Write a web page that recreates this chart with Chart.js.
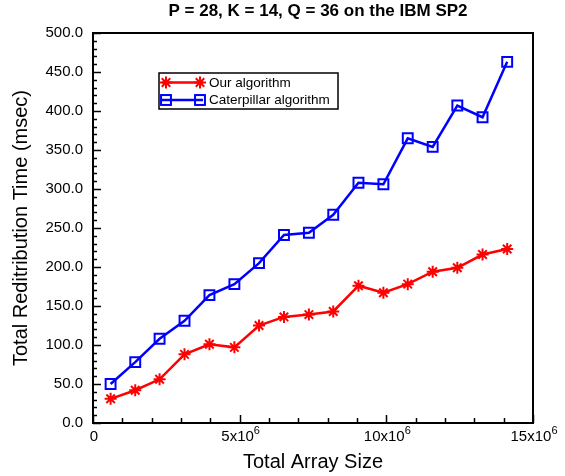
<!DOCTYPE html>
<html>
<head>
<meta charset="utf-8">
<script src="https://cdn.jsdelivr.net/npm/chart.js@4.4.0/dist/chart.umd.min.js"></script>
<style>
  html, body { margin: 0; padding: 0; background: #fff; }
  #chart { display: block; }
</style>
</head>
<body>
<canvas id="chart" width="565" height="476"></canvas>
<script>
// values
var arraySizes = [0.6e6, 1.44e6, 2.27e6, 3.12e6, 3.97e6, 4.82e6, 5.66e6, 6.51e6, 7.36e6,
                  8.19e6, 9.05e6, 9.9e6, 10.73e6, 11.58e6, 12.42e6, 13.28e6, 14.12e6];
var ourTimes = [31, 42, 56, 88, 101, 97, 125, 136, 139, 143, 176, 167, 178, 194, 199, 216, 223];
var caterpillarTimes = [50, 78, 108, 131, 164, 178, 205, 241, 244, 267, 308, 306, 365, 354, 407, 392, 463];
var seriesNames = ['Our algorithm', 'Caterpillar algorithm'];
var titleText = 'P = 28, K = 14, Q = 36 on the IBM SP2';

var yMajorTicks = [0, 50, 100, 150, 200, 250, 300, 350, 400, 450, 500];
var yMinorTicks = [10, 20, 30, 40, 60, 70, 80, 90, 110, 120, 130, 140, 160, 170, 180, 190,
                   210, 220, 230, 240, 260, 270, 280, 290, 310, 320, 330, 340, 360, 370, 380, 390,
                   410, 420, 430, 440, 460, 470, 480, 490];
var xMajorTicks = [0, 5e6, 10e6, 15e6];
var xMinorTicks = [1e6, 2e6, 3e6, 4e6, 6e6, 7e6, 8e6, 9e6, 11e6, 12e6, 13e6, 14e6];
// tick label = base text + superscript exponent
var xTickBases = ['0', '5x10', '10x10', '15x10'];
var xTickExps = ['', '6', '6', '6'];

var FONT = '"Liberation Sans", Arial, sans-serif';

function toPoints(ys) {
    return ys.map(function (v, i) { return { x: arraySizes[i], y: v }; });
}

function drawStar(ctx, x, y, r) {
    var d = r * Math.SQRT1_2;
    ctx.beginPath();
    ctx.moveTo(x - r, y); ctx.lineTo(x + r, y);
    ctx.moveTo(x, y - r); ctx.lineTo(x, y + r);
    ctx.moveTo(x - d, y - d); ctx.lineTo(x + d, y + d);
    ctx.moveTo(x - d, y + d); ctx.lineTo(x + d, y - d);
    ctx.stroke();
}

function drawSquare(ctx, x, y, r) {
    var s = r * Math.SQRT1_2;
    ctx.strokeRect(x - s, y - s, 2 * s, 2 * s);
}

// frame, inward ticks, x tick labels, title, legend box
var decorations = {
    id: 'decorations',
    afterDraw: function (chart) {
        var ctx = chart.ctx, a = chart.chartArea;
        var xs = chart.scales.x, ys = chart.scales.y;
        ctx.save();
        ctx.strokeStyle = '#000';
        ctx.lineWidth = 1.5;
        ctx.beginPath();
        yMajorTicks.forEach(function (v) {
            var py = Math.round(ys.getPixelForValue(v)) + 0.5;
            ctx.moveTo(a.left, py); ctx.lineTo(a.left + 8, py);
        });
        yMinorTicks.forEach(function (v) {
            var py = Math.round(ys.getPixelForValue(v)) + 0.5;
            ctx.moveTo(a.left, py); ctx.lineTo(a.left + 4, py);
        });
        xMajorTicks.forEach(function (v) {
            var px = Math.round(xs.getPixelForValue(v)) + 0.5;
            ctx.moveTo(px, a.bottom); ctx.lineTo(px, a.bottom - 8);
        });
        xMinorTicks.forEach(function (v) {
            var px = Math.round(xs.getPixelForValue(v)) + 0.5;
            ctx.moveTo(px, a.bottom); ctx.lineTo(px, a.bottom - 5);
        });
        ctx.stroke();

        ctx.lineWidth = 2;
        ctx.strokeRect(a.left, a.top, a.right - a.left, a.bottom - a.top);

        // x tick labels with raised exponent
        ctx.fillStyle = '#000';
        ctx.textAlign = 'left';
        ctx.textBaseline = 'alphabetic';
        xMajorTicks.forEach(function (v, i) {
            var px = xs.getPixelForValue(v);
            ctx.font = '15px ' + FONT;
            var wb = ctx.measureText(xTickBases[i]).width;
            ctx.font = '11px ' + FONT;
            var we = xTickExps[i] ? ctx.measureText(xTickExps[i]).width : 0;
            var x0 = px - (wb + we) / 2 + 1;
            ctx.font = '15px ' + FONT;
            ctx.fillText(xTickBases[i], x0, a.bottom + 18);
            if (we) {
                ctx.font = '11px ' + FONT;
                ctx.fillText(xTickExps[i], x0 + wb, a.bottom + 11);
            }
        });

        // title
        ctx.font = 'bold 17px ' + FONT;
        ctx.textAlign = 'center';
        ctx.textBaseline = 'middle';
        ctx.fillText(titleText, (a.left + a.right) / 2 + 5, 11);

        // legend
        var bx = 159, by = 73, bw = 179, bh = 36;
        ctx.fillStyle = '#fff';
        ctx.fillRect(bx, by, bw, bh);
        ctx.lineWidth = 1.5;
        ctx.strokeStyle = '#000';
        ctx.strokeRect(bx, by, bw, bh);
        ctx.font = '13.5px ' + FONT;
        ctx.textAlign = 'left';
        chart.data.datasets.forEach(function (ds, i) {
            var ry = by + 9.5 + i * 17.5;
            ctx.strokeStyle = ds.borderColor;
            ctx.lineWidth = 2.5;
            ctx.beginPath();
            ctx.moveTo(bx + 3, ry); ctx.lineTo(bx + 44, ry);
            ctx.stroke();
            ctx.lineWidth = 2;
            if (ds.pointStyle === 'star') {
                drawStar(ctx, bx + 7, ry, 6);
                drawStar(ctx, bx + 41, ry, 6);
            } else {
                drawSquare(ctx, bx + 7, ry, 7);
                drawSquare(ctx, bx + 41, ry, 7);
            }
            ctx.fillStyle = '#000';
            ctx.fillText(ds.label, bx + 50, ry + 0.5);
        });
        ctx.restore();
    }
};

new Chart(document.getElementById('chart'), {
    type: 'line',
    data: {
        datasets: [{
            label: seriesNames[0],
            data: toPoints(ourTimes),
            borderColor: '#ff0000',
            backgroundColor: '#ff0000',
            borderWidth: 2.5,
            pointStyle: 'star',
            pointRadius: 6,
            pointBorderWidth: 2,
            tension: 0
        }, {
            label: seriesNames[1],
            data: toPoints(caterpillarTimes),
            borderColor: '#0000ff',
            backgroundColor: 'rgba(0,0,0,0)',
            borderWidth: 2.5,
            pointStyle: 'rect',
            pointRadius: 7,
            pointBorderWidth: 2,
            tension: 0
        }]
    },
    options: {
        responsive: false,
        animation: false,
        events: [],
        devicePixelRatio: 1,
        layout: { padding: { top: 33, right: 32, left: 0, bottom: 0 } },
        plugins: {
            legend: { display: false },
            tooltip: { enabled: false },
            title: { display: false }
        },
        scales: {
            x: {
                type: 'linear',
                min: 0,
                max: 15e6,
                grid: { display: false, drawTicks: false },
                border: { display: false },
                afterFit: function (s) { s.height = 53; },
                afterBuildTicks: function (s) {
                    s.ticks = xMajorTicks.map(function (v) { return { value: v }; });
                },
                ticks: {
                    padding: 4,
                    maxRotation: 0,
                    font: { family: FONT, size: 15 },
                    // labels are drawn by the decorations plugin (superscript)
                    callback: function () { return ''; }
                },
                title: {
                    display: true,
                    text: 'Total Array Size',
                    font: { family: FONT, size: 20 },
                    color: '#000',
                    padding: { top: 0, bottom: 2 }
                }
            },
            y: {
                type: 'linear',
                min: 0,
                max: 500,
                grid: { display: false, drawTicks: false },
                border: { display: false },
                afterFit: function (s) { s.width = 93; },
                afterBuildTicks: function (s) {
                    s.ticks = yMajorTicks.map(function (v) { return { value: v }; });
                },
                ticks: {
                    padding: 10,
                    font: { family: FONT, size: 15 },
                    color: '#000',
                    callback: function (v) { return v.toFixed(1); }
                },
                title: {
                    display: true,
                    text: 'Total Reditribution Time (msec)',
                    font: { family: FONT, size: 20 },
                    color: '#000',
                    padding: { top: 9.5, bottom: 0 }
                }
            }
        }
    },
    plugins: [decorations]
});
</script>
</body>
</html>
